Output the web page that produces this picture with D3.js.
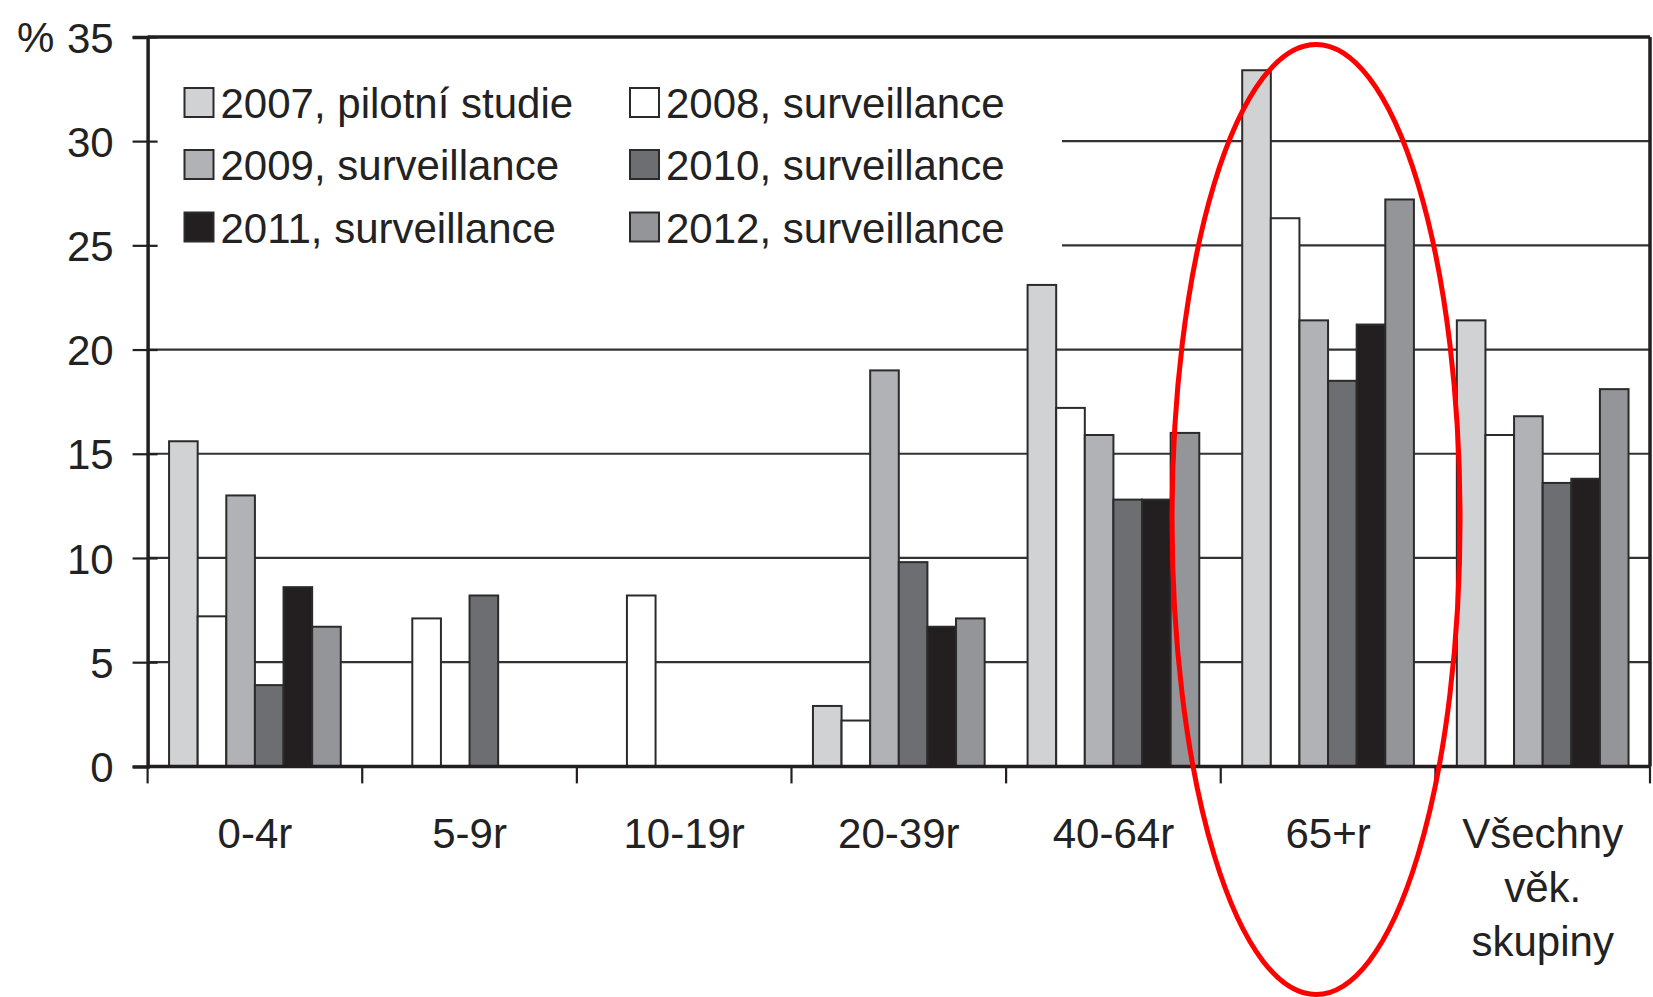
<!DOCTYPE html>
<html><head><meta charset="utf-8">
<script src="https://cdn.jsdelivr.net/npm/d3@7"></script>
<style>html,body{margin:0;padding:0;background:#fff;}svg{display:block;}</style>
</head><body>
<svg id="chart" width="1653" height="997"></svg>
<script>
const categories = ["0-4r", "5-9r", "10-19r", "20-39r", "40-64r", "65+r", "Všechny věk. skupiny"];
const seriesNames = ["2007, pilotní studie", "2008, surveillance", "2009, surveillance", "2010, surveillance", "2011, surveillance", "2012, surveillance"];
const s2007 = [15.6, 0, 0, 2.9, 23.1, 33.4, 21.4];
const s2008 = [7.2, 7.1, 8.2, 2.2, 17.2, 26.3, 15.9];
const s2009 = [13.0, 0, 0, 19.0, 15.9, 21.4, 16.8];
const s2010 = [3.9, 8.2, 0, 9.8, 12.8, 18.5, 13.6];
const s2011 = [8.6, 0, 0, 6.7, 12.8, 21.2, 13.8];
const s2012 = [6.7, 0, 0, 7.1, 16.0, 27.2, 18.1];
const yTicks = [0, 5, 10, 15, 20, 25, 30, 35];
const colors = ["#d1d2d4", "#ffffff", "#b1b2b5", "#6d6e71", "#231f20", "#939598"];

(function () {
const seriesValues = [s2007, s2008, s2009, s2010, s2011, s2012];
const svg = d3.select("#chart");
const font = "'Liberation Sans', Arial, sans-serif";
const textColor = "#222";
const mLeft = 147.6, mRight = 1650, mTop = 36.9, mBottom = 766.4;

const x = d3.scaleBand().domain(categories).range([mLeft, mRight]).padding(0);
const xs = d3.scaleBand().domain(d3.range(6)).range([x.bandwidth() * 0.1, x.bandwidth() * 0.9]).padding(0);
const y = d3.scaleLinear().domain([0, 35]).range([mBottom, mTop]);

// gridlines
svg.append("g").selectAll("line").data(yTicks.filter(t => t > 0 && t < 35)).join("line")
  .attr("x1", mLeft).attr("x2", mRight).attr("y1", d => y(d)).attr("y2", d => y(d))
  .attr("stroke", "#333").attr("stroke-width", 2.2);

// legend background (hides gridlines)
svg.append("rect").attr("x", mLeft + 2).attr("y", mTop + 2).attr("width", 1060 - mLeft).attr("height", 225)
  .attr("fill", "#fff");

// bars
const g = svg.append("g");
categories.forEach((c, ci) => {
  seriesValues.forEach((vals, si) => {
    const v = vals[ci];
    if (v <= 0) return;
    g.append("rect")
      .attr("x", x(c) + xs(si))
      .attr("y", y(v))
      .attr("width", xs.bandwidth())
      .attr("height", y(0) - y(v))
      .attr("fill", colors[si])
      .attr("stroke", "#2b2b2b").attr("stroke-width", 2);
  });
});

// baseline
svg.append("line").attr("x1", mLeft).attr("x2", mRight).attr("y1", y(0)).attr("y2", y(0))
  .attr("stroke", "#231f20").attr("stroke-width", 3.5);

// frame top & right
svg.append("line").attr("x1", mLeft).attr("x2", mRight).attr("y1", y(35)).attr("y2", y(35))
  .attr("stroke", "#231f20").attr("stroke-width", 3.5);
svg.append("line").attr("x1", mRight).attr("x2", mRight).attr("y1", y(35)).attr("y2", y(0))
  .attr("stroke", "#231f20").attr("stroke-width", 3.5);

// y axis
const yAxis = d3.axisLeft(y).tickValues(yTicks).tickSize(15).tickPadding(10);
const ya = svg.append("g").attr("transform", `translate(${mLeft},0)`).call(yAxis);
ya.select(".domain").attr("stroke", "#231f20").attr("stroke-width", 3.5);
ya.selectAll(".tick line").attr("stroke", "#231f20").attr("stroke-width", 2.2).attr("x2", -15).attr("x1", 10);
ya.selectAll(".tick text").attr("font-family", font).attr("font-size", 42).attr("fill", textColor)
  .attr("x", -34).attr("dy", "0.36em");

svg.append("text").attr("x", 17).attr("y", y(35)).attr("dy", "0.36em")
  .attr("font-family", font).attr("font-size", 42).attr("fill", textColor).text("%");

// x axis ticks
const bounds = categories.map(c => x(c)).concat([mRight]);
svg.append("g").selectAll("line").data(bounds).join("line")
  .attr("x1", d => d).attr("x2", d => d).attr("y1", y(0)).attr("y2", y(0) + 17)
  .attr("stroke", "#231f20").attr("stroke-width", 2.2);

// category labels
const labelLines = {"Všechny věk. skupiny": ["Všechny", "věk.", "skupiny"]};
categories.forEach(c => {
  const lines = labelLines[c] || [c];
  const t = svg.append("text").attr("text-anchor", "middle")
    .attr("font-family", font).attr("font-size", 42).attr("fill", textColor);
  lines.forEach((ln, i) => {
    t.append("tspan").attr("x", x(c) + x.bandwidth() / 2).attr("y", 848 + i * 54).text(ln);
  });
});

// legend
const legCols = [184.5, 630];
const legRows = [118, 180, 242.5];
seriesNames.forEach((name, i) => {
  const col = i % 2, row = Math.floor(i / 2);
  const lx = legCols[col], ly = legRows[row];
  svg.append("rect").attr("x", lx).attr("y", ly - 30).attr("width", 29).attr("height", 29)
    .attr("fill", colors[i]).attr("stroke", "#2b2b2b").attr("stroke-width", 2);
  svg.append("text").attr("x", lx + 36).attr("y", ly)
    .attr("font-family", font).attr("font-size", 42).attr("fill", textColor).text(name);
});

// red ellipse annotation around 65+r
const cx = x("65+r") + x.bandwidth() / 2 - 12;
svg.append("ellipse").attr("cx", cx).attr("cy", 519.5).attr("rx", 144).attr("ry", 475)
  .attr("fill", "none").attr("stroke", "#ff0000").attr("stroke-width", 5);
})();
</script>
</body></html>
